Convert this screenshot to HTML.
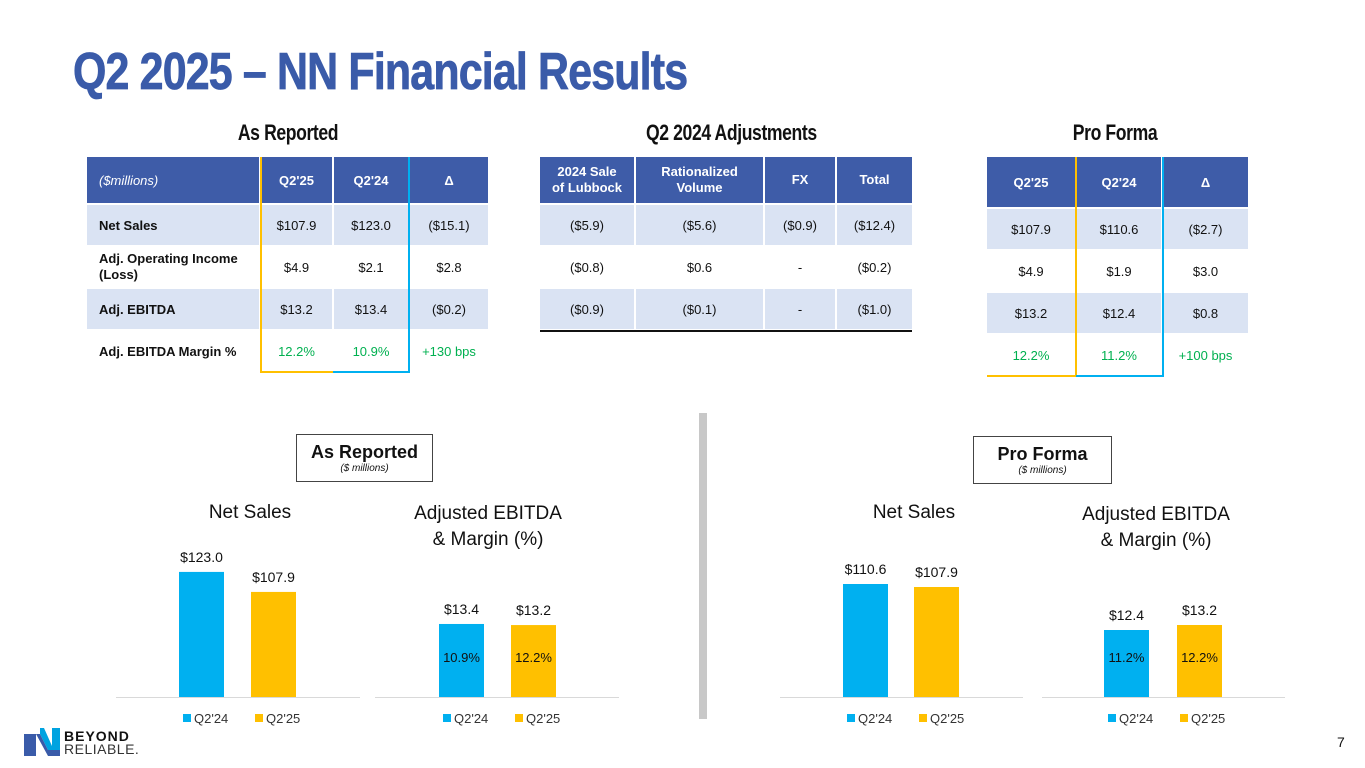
<!DOCTYPE html>
<html><head><meta charset="utf-8">
<style>
*{margin:0;padding:0;box-sizing:border-box}
body{width:1365px;height:768px;background:#fff;position:relative;overflow:hidden;font-family:"Liberation Sans",sans-serif;color:#111}
.abs{position:absolute}
.title{left:73px;top:42px;font-size:52px;font-weight:bold;color:#3A5BA9;transform:scaleX(0.825);transform-origin:left top;white-space:nowrap;letter-spacing:-1px;-webkit-text-stroke:0.8px #3A5BA9}
.sec{font-size:22px;font-weight:bold;transform:scaleX(0.8);white-space:nowrap;text-align:center;letter-spacing:-0.5px}
table{position:absolute;border-collapse:separate;border-spacing:2px;font-size:13px}
td,th{text-align:center;padding:0}
th{background:#3E5CA8;color:#fff;font-weight:bold;font-size:13px}
tr.l td{background:#DAE3F3}
.g{color:#00B050}
.box{border:1.5px solid #444;text-align:center}
</style></head><body>
<div class="abs title">Q2 2025 – NN Financial Results</div>

<div class="abs sec" style="left:188px;top:120px;width:200px">As Reported</div>
<div class="abs sec" style="left:626px;top:120px;width:200px">Q2 2024 Adjustments</div>
<div class="abs sec" style="left:1015px;top:120px;width:200px">Pro Forma</div>

<table style="left:85px;top:155px;width:405px">
<tr style="height:46px"><th style="width:172px;text-align:left;padding-left:12px;font-weight:normal;font-style:italic">($millions)</th><th style="width:71px">Q2'25</th><th style="width:74px">Q2'24</th><th>Δ</th></tr>
<tr class="l" style="height:40px"><td style="text-align:left;padding-left:12px;font-weight:bold">Net Sales</td><td>$107.9</td><td>$123.0</td><td>($15.1)</td></tr>
<tr style="height:40px"><td style="text-align:left;padding-left:12px;font-weight:bold;line-height:16px">Adj. Operating Income<br>(Loss)</td><td>$4.9</td><td>$2.1</td><td>$2.8</td></tr>
<tr class="l" style="height:40px"><td style="text-align:left;padding-left:12px;font-weight:bold">Adj. EBITDA</td><td>$13.2</td><td>$13.4</td><td>($0.2)</td></tr>
<tr style="height:40px"><td style="text-align:left;padding-left:12px;font-weight:bold">Adj. EBITDA Margin %</td><td class="g">12.2%</td><td class="g">10.9%</td><td class="g">+130 bps</td></tr>
</table>
<div class="abs" style="left:260px;top:157px;width:2px;height:215px;background:#FFC000"></div>
<div class="abs" style="left:260px;top:371px;width:73px;height:2px;background:#FFC000"></div>
<div class="abs" style="left:408px;top:157px;width:2px;height:215px;background:#00B0F0"></div>
<div class="abs" style="left:333px;top:371px;width:77px;height:2px;background:#00B0F0"></div>

<table style="left:538px;top:155px;width:376px">
<tr style="height:46px;line-height:16px"><th style="width:94px">2024 Sale<br>of Lubbock</th><th style="width:127px">Rationalized<br>Volume</th><th style="width:70px">FX</th><th>Total</th></tr>
<tr class="l" style="height:40px"><td>($5.9)</td><td>($5.6)</td><td>($0.9)</td><td>($12.4)</td></tr>
<tr style="height:40px"><td>($0.8)</td><td>$0.6</td><td>-</td><td>($0.2)</td></tr>
<tr class="l" style="height:40px"><td>($0.9)</td><td>($0.1)</td><td>-</td><td>($1.0)</td></tr>
</table>
<div class="abs" style="left:540px;top:330px;width:372px;height:2px;background:#111"></div>

<table style="left:985px;top:155px;width:265px">
<tr style="height:50px"><th style="width:88px">Q2'25</th><th style="width:84px">Q2'24</th><th>Δ</th></tr>
<tr class="l" style="height:40px"><td>$107.9</td><td>$110.6</td><td>($2.7)</td></tr>
<tr style="height:40px"><td>$4.9</td><td>$1.9</td><td>$3.0</td></tr>
<tr class="l" style="height:40px"><td>$13.2</td><td>$12.4</td><td>$0.8</td></tr>
<tr style="height:40px"><td class="g">12.2%</td><td class="g">11.2%</td><td class="g">+100 bps</td></tr>
</table>
<div class="abs" style="left:1075px;top:157px;width:2px;height:219px;background:#FFC000"></div>
<div class="abs" style="left:987px;top:375px;width:89px;height:2px;background:#FFC000"></div>
<div class="abs" style="left:1162px;top:157px;width:2px;height:219px;background:#00B0F0"></div>
<div class="abs" style="left:1076px;top:375px;width:88px;height:2px;background:#00B0F0"></div>

<div class="abs" style="left:699px;top:413px;width:8px;height:306px;background:#C8C8C8"></div>

<div class="abs box" style="left:296px;top:434px;width:137px;height:48px"><div style="font-size:18px;font-weight:bold;margin-top:7px">As Reported</div><div style="font-size:10px;font-style:italic">($ millions)</div></div>
<div class="abs box" style="left:973px;top:436px;width:139px;height:48px"><div style="font-size:18px;font-weight:bold;margin-top:7px">Pro Forma</div><div style="font-size:10px;font-style:italic">($ millions)</div></div>

<svg class="abs" style="left:0;top:0" width="1365" height="768" id="charts"></svg>

<div class="abs" style="left:1337px;top:734px;font-size:14px">7</div>
<div class="abs" style="left:22px;top:726px">
<svg width="40" height="32"><polygon points="2,8 14,8 14,30 2,30" fill="#3A5BA9"/><polygon points="10,2 22,2 30,20 30,2 38,2 38,24 26,24 18,8 18,2" fill="#00A3E0"/><polygon points="14,8 26,30 38,30 38,24 26,24 18,8" fill="#3A5BA9"/></svg>
<div class="abs" style="left:42px;top:2px;font-size:14px;font-weight:bold;letter-spacing:1px;white-space:nowrap">BEYOND</div>
<div class="abs" style="left:42px;top:15px;font-size:14px;letter-spacing:0.5px;color:#333;white-space:nowrap">RELIABLE.</div>
</div>

<script>
const categories = ["Q2'24", "Q2'25"];
const asRepNetSales = [123.0, 107.9];
const asRepEbitda = [13.4, 13.2];
const asRepMargin = ["10.9%", "12.2%"];
const pfNetSales = [110.6, 107.9];
const pfEbitda = [12.4, 13.2];
const pfMargin = ["11.2%", "12.2%"];
const colors = ["#00B0F0", "#FFC000"];
const svg = document.getElementById('charts');
const NS = 'http://www.w3.org/2000/svg';
function mk(tag, attrs){const e=document.createElementNS(NS,tag);for(const k in attrs)e.setAttribute(k,attrs[k]);svg.appendChild(e);return e;}
function chart(cfg){
  const base=697;
  const y=v=>base-(v-cfg.min)*cfg.k;
  const ax=mk('line',{x1:cfg.x0,x2:cfg.x1,y1:base+0.5,y2:base+0.5,stroke:'#D9D9D9','stroke-width':1});
  
  
  cfg.title.forEach((t,i)=>{const tx=mk('text',{x:cfg.cx,y:cfg.ty+i*26,'text-anchor':'middle','font-size':19,'font-family':'Liberation Sans','fill':'#111'});tx.textContent=t;
    
    });
  cfg.values.forEach((v,i)=>{
    const bx=cfg.bars[i], top=y(v);
    const r=mk('rect',{x:bx,y:top,width:45,height:base-top,fill:colors[i]});
    
    
    const lb=mk('text',{x:bx+22.5,y:top-10,'text-anchor':'middle','font-size':14,'font-family':'Liberation Sans','fill':'#111'});
    lb.textContent='$'+v.toFixed(1);
    
    
    if(cfg.margins){const m=mk('text',{x:bx+22.5,y:662,'text-anchor':'middle','font-size':13,'font-family':'Liberation Sans','fill':'#111'});m.textContent=cfg.margins[i];
      
      }
  });
  categories.forEach((c,i)=>{const lx=cfg.leg+i*72;
    const sq=mk('rect',{x:lx,y:714,width:8,height:8,fill:colors[i]});
    
    
    const t=mk('text',{x:lx+11,y:723,'font-size':13,'font-family':'Liberation Sans','fill':'#333'});t.textContent=c;
    
    });
}
chart({name:'as-reported-net-sales',values:asRepNetSales,min:28.6,k:1.325,x0:116,x1:360,bars:[179,251],cx:250,ty:518,title:['Net Sales'],leg:183});
chart({name:'as-reported-ebitda',values:asRepEbitda,margins:asRepMargin,min:0,k:5.45,x0:375,x1:619,bars:[439,511],cx:488,ty:519,title:['Adjusted EBITDA','& Margin (%)'],leg:443});
chart({name:'pro-forma-net-sales',values:pfNetSales,min:8.8,k:1.11,x0:780,x1:1023,bars:[843,914],cx:914,ty:518,title:['Net Sales'],leg:847});
chart({name:'pro-forma-ebitda',values:pfEbitda,margins:pfMargin,min:1.68,k:6.25,x0:1042,x1:1285,bars:[1104,1177],cx:1156,ty:520,title:['Adjusted EBITDA','& Margin (%)'],leg:1108});
</script>
</body></html>
